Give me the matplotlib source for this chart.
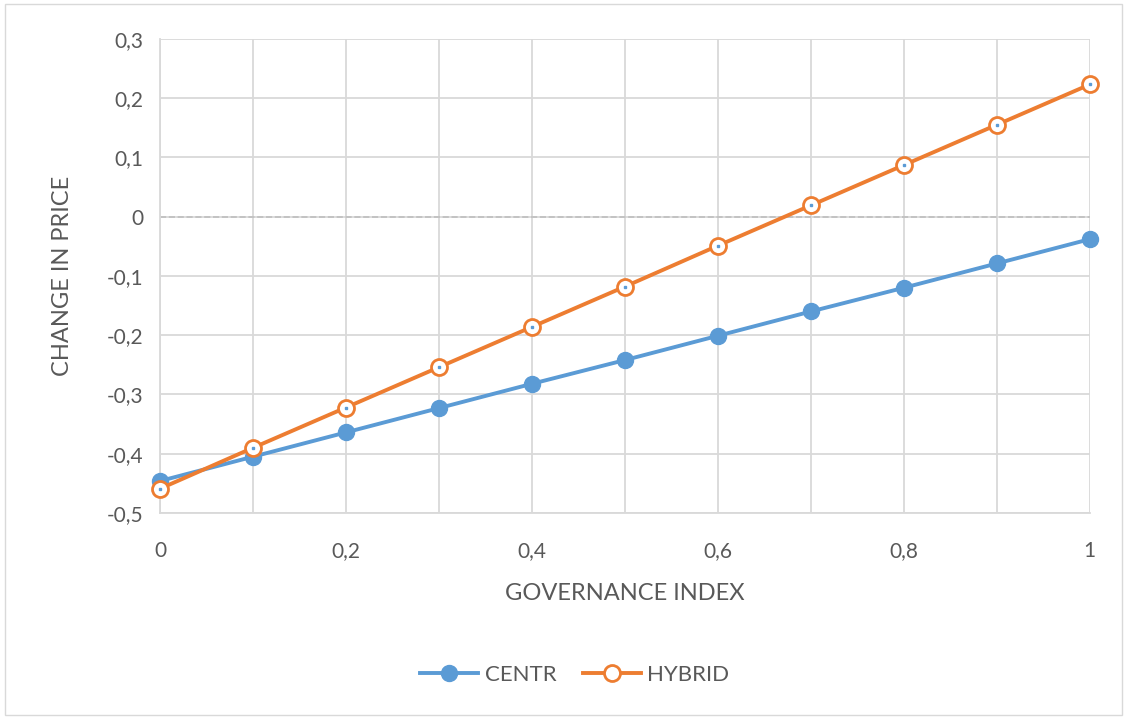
import matplotlib.pyplot as plt
from matplotlib.ticker import FuncFormatter, MultipleLocator
from matplotlib.patches import Rectangle

governance = [0, 0.1, 0.2, 0.3, 0.4, 0.5, 0.6, 0.7, 0.8, 0.9, 1.0]
centr = [-0.446, -0.405, -0.364, -0.323, -0.282, -0.242, -0.201, -0.160, -0.120, -0.079, -0.038]
hybrid = [-0.459, -0.390, -0.322, -0.254, -0.186, -0.118, -0.049, 0.019, 0.087, 0.155, 0.223]

blue = '#5b9bd5'
orange = '#ed7d31'
txt = '#595959'
plt.rcParams['font.family'] = ['Lato', 'DejaVu Sans']

fig = plt.figure(figsize=(11.27, 7.19), dpi=100)
ax = fig.add_axes([0.142, 0.2865, 0.825, 0.6595])

# frame around the chart
fig.patches.append(Rectangle((0.004, 0.006), 0.992, 0.988, transform=fig.transFigure,
                             fill=False, edgecolor='#d9d9d9', linewidth=1))

ax.plot(governance, centr, color=blue, linewidth=2.8, marker='o', markersize=11.5,
        markerfacecolor=blue, markeredgecolor=blue, label='CENTR', zorder=3, clip_on=False)
ax.plot(governance, hybrid, color=orange, linewidth=2.8, marker='o', markersize=11.5,
        markerfacecolor='white', markeredgecolor=orange, markeredgewidth=2,
        label='HYBRID', zorder=4, clip_on=False)
ax.plot(governance, hybrid, linestyle='none', marker='s', markersize=1.5,
        color=blue, zorder=5, clip_on=False)

ax.axhline(0, color='#bfbfbf', linestyle='--', linewidth=1.2, zorder=2)

ax.set_xlim(0, 1)
ax.set_ylim(-0.5, 0.3)
ax.xaxis.set_major_locator(MultipleLocator(0.2))
ax.xaxis.set_minor_locator(MultipleLocator(0.1))
ax.yaxis.set_major_locator(MultipleLocator(0.1))

fmt = FuncFormatter(lambda v, p: ('%g' % round(v, 2)).replace('.', ','))
ax.xaxis.set_major_formatter(fmt)
ax.yaxis.set_major_formatter(fmt)

ax.grid(True, which='both', color='#d9d9d9', linewidth=1.3, zorder=0)
ax.set_axisbelow(True)
for s in ax.spines.values():
    s.set_visible(False)
for side in ['left', 'bottom']:
    ax.spines[side].set_visible(True)
    ax.spines[side].set_color('#d9d9d9')
    ax.spines[side].set_linewidth(1.3)

ax.tick_params(which='both', length=0, labelsize=15, labelcolor=txt)
ax.tick_params(axis='x', pad=20)
ax.tick_params(axis='y', pad=12)

ax.set_xlabel('GOVERNANCE INDEX', fontsize=17, color=txt, labelpad=16)
ax.set_ylabel('CHANGE IN PRICE', fontsize=17, color=txt, labelpad=24)

handles, labels = ax.get_legend_handles_labels()
leg = fig.legend(handles, labels, loc='center', bbox_to_anchor=(0.51, 0.061), ncol=2,
                 frameon=False, fontsize=16, handlelength=2.6, columnspacing=1.2,
                 handletextpad=0.3)
for t in leg.get_texts():
    t.set_color(txt)

plt.savefig('out.png', dpi=100)
